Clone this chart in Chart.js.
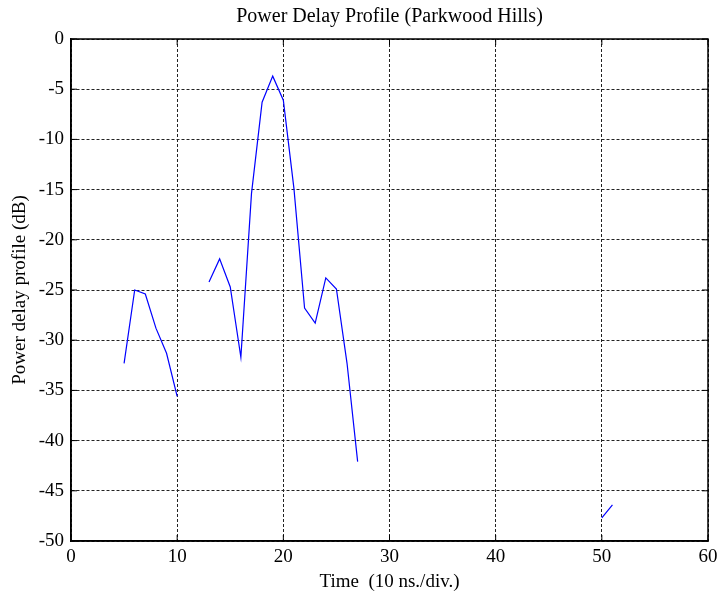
<!DOCTYPE html>
<html><head><meta charset="utf-8">
<script src="https://cdn.jsdelivr.net/npm/chart.js@4"></script>
<style>html,body{margin:0;padding:0;background:#fff}#wrap{width:721px;height:597px}</style>
</head><body><div id="wrap"><canvas id="c" width="721" height="597"></canvas></div>
<script>
const timeValues = [5,6,7,8,9,10,11,12,13,14,15,16,17,18,19,20,21,22,23,24,25,26,27,28,50,51];
const powerValues = [-32.3,-25.0,-25.4,-28.8,-31.3,-35.6,null,null,-24.2,-21.9,-24.7,-31.7,-15.4,-6.3,-3.7,-6.1,-14.9,-26.8,-28.3,-23.8,-24.9,-32.3,-42.1,null,-47.7,-46.4];
const xTicks = [0,10,20,30,40,50,60];
const yTicks = [0,-5,-10,-15,-20,-25,-30,-35,-40,-45,-50];
const titleText = 'Power Delay Profile (Parkwood Hills)';
const xLabel = 'Time  (10 ns./div.)';
const yLabel = 'Power delay profile (dB)';

const pts = timeValues.map((t,i)=>({x:t,y:powerValues[i]}));
const fam = '"Liberation Serif", "Times New Roman", serif';
const tickFont = {family:fam, size:19};
const axisFont = {family:fam, size:19};

const framePlugin = {
  id:'frame',
  afterDatasetsDraw(chart){
    const a = chart.chartArea, ctx = chart.ctx;
    const xs = chart.scales.x, ys = chart.scales.y;
    ctx.save();
    ctx.strokeStyle = '#000'; ctx.setLineDash([]);
    ctx.lineWidth = 1;
    ctx.beginPath();
    xTicks.forEach(v=>{ const p = xs.getPixelForValue(v);
      ctx.moveTo(p, a.bottom); ctx.lineTo(p, a.bottom-6);
      ctx.moveTo(p, a.top); ctx.lineTo(p, a.top+6); });
    yTicks.forEach(v=>{ const p = ys.getPixelForValue(v);
      ctx.moveTo(a.left, p); ctx.lineTo(a.left+6, p);
      ctx.moveTo(a.right, p); ctx.lineTo(a.right-6, p); });
    ctx.stroke();
    ctx.lineWidth = 1.5;
    ctx.strokeRect(a.left, a.top, a.right-a.left, a.bottom-a.top);
    ctx.restore();
  }
};

new Chart(document.getElementById('c'), {
  type:'line',
  data:{datasets:[{data:pts, borderColor:'#0000ff', borderWidth:1.2, pointRadius:0, spanGaps:false, tension:0, fill:false}]},
  options:{
    responsive:false, animation:false,
    layout:{padding:{left:0,right:13,top:0,bottom:0}},
    plugins:{
      legend:{display:false}, tooltip:{enabled:false},
      title:{display:true, fullSize:false, text:titleText, color:'#000', font:{family:fam, size:20, weight:'normal'}, padding:{top:5,bottom:10}}
    },
    scales:{
      x:{type:'linear', min:0, max:60,
        afterBuildTicks(s){ s.ticks = xTicks.map(v=>({value:v})); },
        afterFit(s){ s.height = 56; s.paddingLeft = 0; s.paddingRight = 0; },
        grid:{color:'#222', lineWidth:1, drawTicks:false, tickLength:0},
        border:{display:true, color:'#000', width:1.5, dash:[3,2]},
        ticks:{color:'#000', font:tickFont, padding:5, maxRotation:0},
        title:{display:true, text:xLabel, color:'#000', font:axisFont, padding:{top:0,bottom:4}}
      },
      y:{type:'linear', min:-50, max:0,
        afterBuildTicks(s){ s.ticks = yTicks.map(v=>({value:v})); },
        afterFit(s){ s.width = 71; },
        grid:{color:'#222', lineWidth:1, drawTicks:false, tickLength:0},
        border:{display:true, color:'#000', width:1.5, dash:[3,2]},
        ticks:{color:'#000', font:tickFont, padding:7},
        title:{display:true, text:yLabel, color:'#000', font:axisFont, padding:{top:9,bottom:0}}
      }
    }
  },
  plugins:[framePlugin]
});
</script>
</body></html>
